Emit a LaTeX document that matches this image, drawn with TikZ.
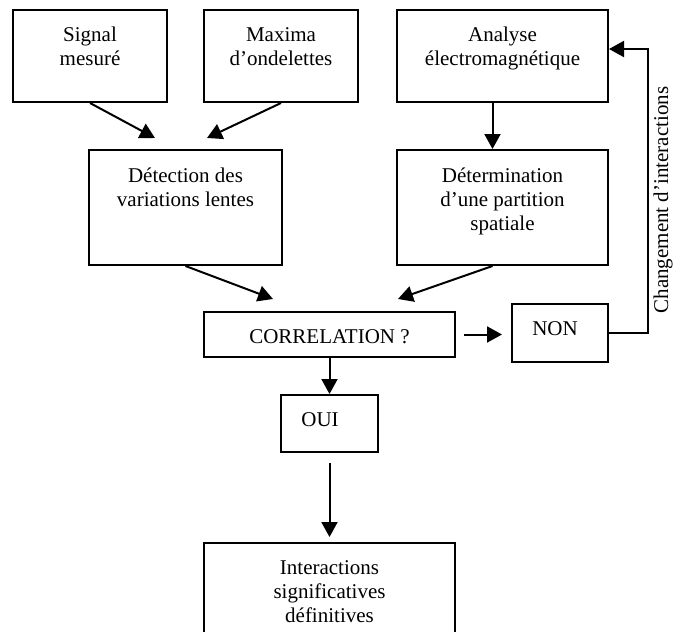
\documentclass[tikz,border=0pt]{standalone}
\usepackage{fontspec}
\setmainfont{Liberation Serif}
\usepackage{tikz}
\usetikzlibrary{arrows.meta,positioning}

\tikzset{
    box/.style={draw, line width=1pt, inner sep=0pt},
    boxtext/.style={inner sep=0pt, align=center, font=\fontsize{10.5}{12}\selectfont},
    flow/.style={line width=1pt, -{Triangle[length=7.5pt,width=8pt]}}
}
% #1 text shift, #2 name, #3 x, #4 y, #5 width, #6 height, #7 text
\newcommand{\drawBox}[7][0pt]{
    \node[box, minimum width=#5*0.5pt, minimum height=#6*0.5pt] (#2) at (#3,#4) {};
    \node[boxtext, below=9pt of #2.north, xshift=#1] (#2-t) {#7}
}

\begin{document}
\begin{tikzpicture}[x=0.5pt,y=-0.5pt]
            \useasboundingbox (0,0) rectangle (682,632);

            \drawBox{sig}{90}{56}{154}{92}{Signal\\mesuré};
            \drawBox{max}{281}{56}{154}{92}{Maxima\\d’ondelettes};
            \drawBox{ana}{502.5}{56}{211}{92}{Analyse\\électromagnétique};
            \drawBox{det}{185.5}{207.5}{193}{115}{Détection des\\variations lentes};
            \drawBox{par}{502.5}{207.5}{211}{115}{Détermination\\d’une partition\\spatiale};
            \drawBox{cor}{329.5}{334.5}{251}{45}{CORRELATION ?};
            \drawBox[-2.5pt]{non}{560}{333}{96}{58}{NON};
            \drawBox[-4.75pt]{oui}{329.5}{423.5}{97}{57}{OUI};
            \drawBox{int}{329.5}{598}{251}{110}{Interactions\\significatives\\définitives};

            \coordinate (det-in1) at (155,138);
            \coordinate (det-in2) at (207,138);
            \coordinate (cor-in1) at (273,299);
            \coordinate (cor-in2) at (398,299);

            \draw[flow] (sig.south) -- (det-in1);
            \draw[flow] (max.south) -- (det-in2);
            \draw[flow] ([xshift=-5pt]ana.south) -- ([xshift=-5pt]par.north);
            \draw[flow] (det.south) -- (cor-in1);
            \draw[flow] ([xshift=-5pt]par.south) -- (cor-in2);
            \draw[flow, shorten <=4pt, shorten >=4.5pt] (cor.east) -- (cor.east -| non.west);
            \draw[flow] (non.east) -- ++(39,0) coordinate (loop) |- ([yshift=3.5pt]ana.east);
            \node[boxtext, rotate=90] (chg) at (663,200) {Changement d’interactions};
            \draw[flow] (cor.south) -- (oui.north);
            \draw[flow, shorten <=5pt, shorten >=2.5pt] (oui.south) -- (int.north);

        \end{tikzpicture}
\end{document}
